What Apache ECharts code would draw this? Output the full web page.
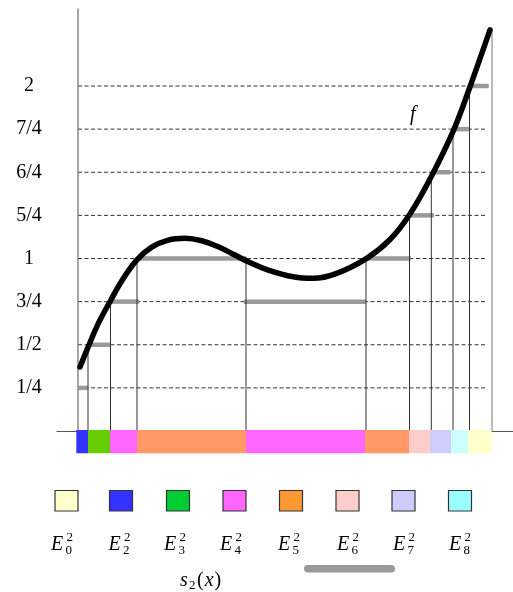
<!DOCTYPE html>
<html><head><meta charset="utf-8">
<script src="https://cdn.jsdelivr.net/npm/echarts/dist/echarts.min.js"></script>
<style>html,body{margin:0;padding:0;background:#fff}#c{width:513px;height:592px}</style>
</head><body><div id="c"></div>
<script>
// ---- data ----
const levelValues = [0.25, 0.5, 0.75, 1, 1.25, 1.5, 1.75, 2];
const levelLabels = ['1/4', '1/2', '3/4', '1', '5/4', '6/4', '7/4', '2'];

// the function f
const curveX = [0.02, 0.103, 0.203, 0.32, 0.437, 0.587, 0.737, 0.903, 1.07, 1.237, 1.403, 1.57, 1.703, 1.903, 2.153, 2.353, 2.587, 2.887, 3.12, 3.32, 3.537, 3.753, 3.92, 4.12];
const curveY = [0.371, 0.489, 0.624, 0.750, 0.870, 0.991, 1.066, 1.107, 1.117, 1.103, 1.068, 1.020, 0.981, 0.933, 0.894, 0.885, 0.914, 1.001, 1.110, 1.258, 1.480, 1.740, 1.996, 2.325];

// vertical cut lines (x and height reached)
const cutX   = [0.10, 0.325, 0.59, 1.68, 2.88, 3.315, 3.533, 3.75, 3.915, 4.14];
const cutTop = [0.5, 0.75, 1, 1, 1, 1.25, 1.5, 1.75, 2, 2.325];

// simple function s2 steps
const stepFrom  = [0.00, 0.12, 0.33, 0.603, 1.66, 2.90, 3.31, 3.54, 3.75, 3.92];
const stepTo    = [0.10, 0.33, 0.61, 1.687, 2.88, 3.33, 3.56, 3.727, 3.92, 4.107];
const stepLevel = [0.25, 0.5, 0.75, 1, 0.75, 1, 1.25, 1.5, 1.75, 2];

// coloured sets E_k on the x axis
const setFrom = [-0.017, 0.10, 0.32, 0.59, 1.68, 2.87, 3.31, 3.52, 3.73, 3.90];
const setTo   = [0.10, 0.32, 0.59, 1.68, 2.87, 3.31, 3.52, 3.73, 3.90, 4.137];
const setColors = ['#3333ff', '#66cc00', '#ff66ff', '#ff9966', '#ff66ff', '#ff9966', '#ffcccc', '#ccccff', '#ccffff', '#ffffcc'];

// legend
const legendSub = ['0', '2', '3', '4', '5', '6', '7', '8'];
const legendColors = ['#ffffcc', '#3333ff', '#00cc33', '#ff66ff', '#ff9933', '#ffcccc', '#ccccff', '#99ffff'];

// ---- layout constants ----
const X_MIN = -0.21, X_MAX = 4.35, Y_MIN = -0.25, Y_MAX = 2.45;
const DASH_END = 4.09, AXIS_TOP = 2.45, BAR_TOP = 0.006, BAR_BOTTOM = -0.129;
const SERIF = '"Liberation Serif", "DejaVu Serif", serif';

const chart = echarts.init(document.getElementById('c'), null, {renderer: 'canvas'});

function lineItem(p0, p1, style) {
  return {type: 'line', shape: {x1: p0[0], y1: p0[1], x2: p1[0], y2: p1[1]}, style: style};
}

const legendX = [55, 109.5, 166.5, 223, 279.5, 336, 392, 448.5];
const labelX = [65, 122.5, 178, 234, 292, 351, 407, 463];
const graphics = [];
legendColors.forEach((c, i) => {
  graphics.push({type: 'rect', x: legendX[i], y: 490.5, shape: {x: 0, y: 0, width: 23, height: 20.5},
    style: {fill: c, stroke: '#333', lineWidth: 1.2}});
  const cx = labelX[i];
  graphics.push({type: 'text', x: cx - 14, y: 545, style: {text: 'E', fontSize: 20, fontFamily: SERIF, fontStyle: 'italic', fill: '#000', align: 'left', verticalAlign: 'middle'}});
  graphics.push({type: 'text', x: cx + 1.5, y: 537.5, style: {text: '2', fontSize: 13, fontFamily: SERIF, fill: '#000', align: 'left', verticalAlign: 'middle'}});
  graphics.push({type: 'text', x: cx + 0.5, y: 551, style: {text: legendSub[i], fontSize: 13, fontFamily: SERIF, fill: '#000', align: 'left', verticalAlign: 'middle'}});
});
graphics.push({type: 'text', x: 180, y: 581, style: {text: 's', fontSize: 20, fontFamily: SERIF, fontStyle: 'italic', fill: '#000', align: 'left', verticalAlign: 'middle'}});
graphics.push({type: 'text', x: 189, y: 586, style: {text: '2', fontSize: 13, fontFamily: SERIF, fill: '#000', align: 'left', verticalAlign: 'middle'}});
graphics.push({type: 'text', x: 197, y: 581, style: {
  text: '{n|(}{i|x}{n|)}', fill: '#000', align: 'left', verticalAlign: 'middle',
  rich: {n: {fontSize: 20, fontFamily: SERIF}, i: {fontSize: 20, fontFamily: SERIF, fontStyle: 'italic', padding: [0, 1, 0, 1]}}}});
graphics.push({type: 'text', x: 410, y: 115, style: {text: 'f', fontSize: 20, fontFamily: SERIF, fontStyle: 'italic', fill: '#000', align: 'left', verticalAlign: 'middle'}});
graphics.push({type: 'rect', x: 304, y: 565, shape: {x: 0, y: 0, width: 91, height: 7.5, r: 3.75}, style: {fill: '#9a9a9a'}});

const option = {
  animation: false,
  backgroundColor: '#fff',
  grid: {left: 57, right: 0, top: 431 - Y_MAX * 172.5, bottom: 592 - (431 - Y_MIN * 172.5), containLabel: false, outerBoundsMode: 'none'},
  xAxis: {
    type: 'value', min: X_MIN, max: X_MAX,
    axisLine: {show: true, onZero: true, lineStyle: {color: '#555', width: 1}},
    axisTick: {show: false}, axisLabel: {show: false}, splitLine: {show: false}
  },
  yAxis: {
    type: 'value', min: Y_MIN, max: Y_MAX, interval: 0.25,
    axisLine: {show: false, onZero: false}, axisTick: {show: false}, splitLine: {show: false},
    axisLabel: {
      show: true, margin: 28, align: 'center', color: '#000', fontSize: 20, fontFamily: SERIF,
      formatter: v => { const i = levelValues.findIndex(l => Math.abs(l - v) < 1e-6); return i >= 0 ? levelLabels[i] : ''; }
    }
  },
  series: [
    { // dashed level lines
      type: 'custom', clip: false, z: 1,
      data: levelValues.map(v => [0, DASH_END, v]),
      renderItem: (params, api) => lineItem(api.coord([api.value(0), api.value(2)]), api.coord([api.value(1), api.value(2)]),
        {stroke: '#333', lineWidth: 1, lineDash: [4, 2.5]})
    },
    { // y axis line
      type: 'custom', clip: false, z: 2,
      data: [[0, AXIS_TOP]],
      renderItem: (params, api) => lineItem(api.coord([api.value(0), 0]), api.coord([api.value(0), api.value(1)]),
        {stroke: '#777', lineWidth: 1.3})
    },
    { // step bars
      type: 'custom', clip: false, z: 3,
      data: stepFrom.map((a, i) => [a, stepTo[i], stepLevel[i]]),
      renderItem: (params, api) => lineItem(api.coord([api.value(0), api.value(2)]), api.coord([api.value(1), api.value(2)]),
        {stroke: '#9a9a9a', lineWidth: 4.5})
    },
    { // vertical cut lines
      type: 'custom', clip: false, z: 4,
      data: cutX.map((x, i) => [x, cutTop[i]]),
      renderItem: (params, api) => lineItem(api.coord([api.value(0), 0]), api.coord([api.value(0), api.value(1)]),
        {stroke: params.dataIndex === cutX.length - 1 ? '#777' : '#333', lineWidth: 1})
    },
    { // f
      type: 'line', z: 5, smooth: 0.4, symbol: 'none', clip: false,
      data: curveX.map((x, i) => [x, curveY[i]]),
      lineStyle: {color: '#000', width: 5.5, cap: 'round', join: 'round'}
    },
    { // coloured sets
      type: 'custom', clip: false, z: 6,
      data: setFrom.map((a, i) => [a, setTo[i]]),
      renderItem: (params, api) => {
        const p0 = api.coord([api.value(0), BAR_TOP]);
        const p1 = api.coord([api.value(1), BAR_BOTTOM]);
        return {type: 'rect', shape: {x: p0[0], y: p0[1], width: p1[0] - p0[0], height: p1[1] - p0[1]},
          style: {fill: setColors[params.dataIndex]}};
      }
    }
  ],
  graphic: graphics
};
chart.setOption(option);
</script></body></html>
